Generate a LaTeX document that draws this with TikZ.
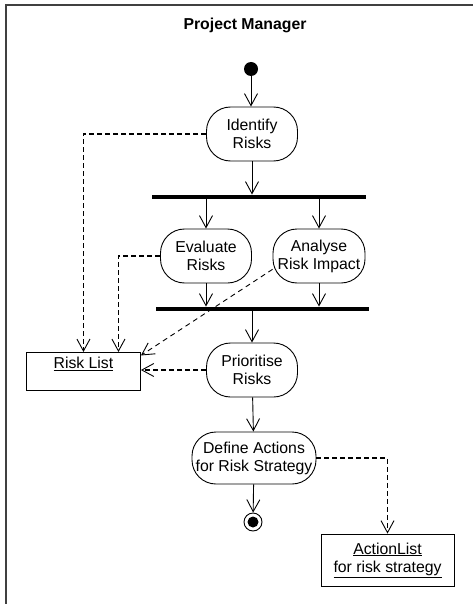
\documentclass[tikz,border=0pt]{standalone}
\usepackage{fontspec}
\setmainfont{Liberation Sans}
\usetikzlibrary{arrows.meta}

\newcommand\actfont{\fontsize{15.8}{18}\selectfont}

\begin{document}
\begin{tikzpicture}[x=1pt,y=-1pt,line width=0.9pt,
        act/.style={draw,rounded corners=24pt,minimum width=91pt,minimum height=54pt,
            inner sep=0pt,align=center,font=\actfont},
        bar/.style={fill=black,inner sep=0pt,minimum height=4pt},
        obj/.style={draw,inner sep=2pt,align=center,font=\actfont},
        flow/.style={-{Straight Barb[length=12pt,width=13pt,line width=0.9pt]}},
        dep/.style={flow,line width=1.7pt,dash pattern=on 5pt off 3pt},
        thindep/.style={flow,line width=0.9pt,dash pattern=on 5pt off 4pt}]
    \useasboundingbox (0,0) rectangle (473,604);

    % swimlane
    \draw[line width=1.5pt,black!75] (6,604) -- (6,5) -- (473,5);
    \node[font=\actfont\bfseries] (title) at (245,25) {Project Manager};

    % activities
    \node[circle,fill=black,minimum size=14pt,inner sep=0pt] (start) at (251,69) {};
    \node[act] (identify) at (252,134) {Identify\\Risks};
    \node[bar,minimum width=214pt] (fork) at (259,197) {};
    \node[act] (evaluate) at (206,256) {Evaluate\\Risks};
    \node[act,minimum width=92pt] (analyse) at (319,256) {Analyse\\Risk Impact};
    \node[bar,minimum width=213pt] (join) at (262.5,309) {};
    \node[act] (prioritise) at (252,370) {Prioritise\\Risks};
    \node[act,minimum width=124pt,minimum height=52pt] (define) at (254,458)
        {Define Actions\\for Risk Strategy};
    \node[circle,draw,minimum size=18pt,inner sep=0pt] (stop) at (253,522) {};
    \fill (stop) circle (5.5pt);

    % objects
    \node[obj,minimum width=114pt,minimum height=38pt,anchor=north west] (risklist) at (26,352)
        {\underline{Risk List}\\\mbox{}};
    \node[obj,minimum width=133pt,minimum height=52pt] (actionlist) at (387.5,560)
        {\underline{ActionList}\\\underline{for risk strategy}};

    % control flow
    \draw[flow] (start) -- (start |- identify.north);
    \draw[flow] (identify) -- (identify |- fork.north);
    \draw[flow] (fork.south -| evaluate) -- (evaluate);
    \draw[flow] (fork.south -| analyse) -- (analyse);
    \draw[flow] (evaluate) -- (evaluate |- join.north);
    \draw[flow] (analyse) -- (analyse |- join.north);
    \draw[flow] (join.south -| prioritise) -- (prioritise);
    \draw[flow] (prioritise) -- (define);
    \draw[flow] (define) -- (stop);

    % object flow
    \draw[dep] (identify.west) -| (risklist.north);
    \draw[dep] (evaluate.west) -| ([xshift=35pt]risklist.north);
    \draw[thindep] (analyse.196) -- ([yshift=16pt]risklist.east);
    \draw[dep] (prioritise.west) -- (prioritise.west -| risklist.east);
    \draw[dep] (define.east) -| (actionlist.north);
\end{tikzpicture}
\end{document}
